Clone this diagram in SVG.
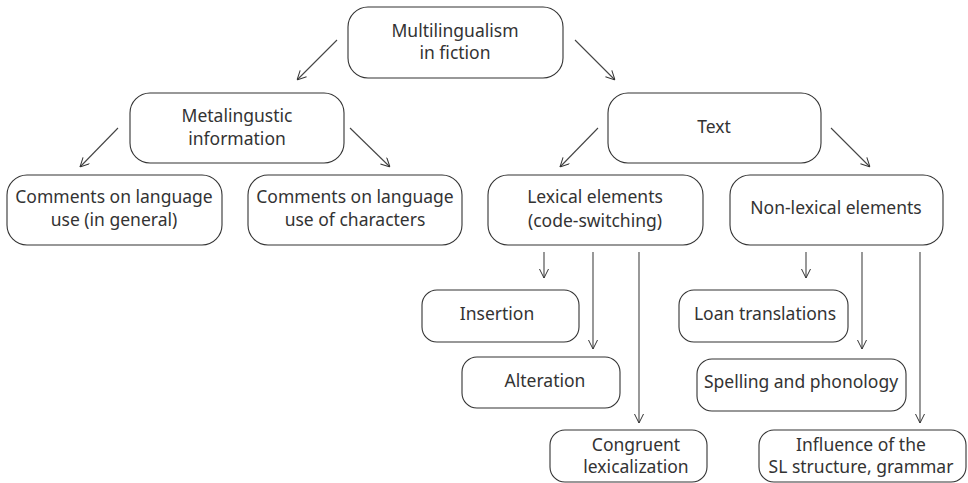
<svg xmlns="http://www.w3.org/2000/svg" width="968" height="483" viewBox="0 0 968 483">
<defs>
<marker id="ah" viewBox="0 0 10 10" refX="10" refY="5" markerWidth="10" markerHeight="10" markerUnits="userSpaceOnUse" orient="auto">
<path d="M1,0.5 L10,5 L1,9.5" fill="none" stroke="#333" stroke-width="1"/>
</marker>
<style>
.box{fill:#fff;stroke:#333;stroke-width:1.1}
.t{font-family:"Noto Sans","Open Sans",sans-serif;font-size:17.5px;fill:#333;text-anchor:middle}
.c{fill:none;stroke:#444;stroke-width:1.1;marker-end:url(#ah)}
</style>
</defs>
<rect width="968" height="483" fill="#fff"/>
<g id="connectors">
<line class="c" x1="337" y1="40" x2="297" y2="80"/>
<line class="c" x1="575" y1="40" x2="615" y2="80"/>
<line class="c" x1="118" y1="128" x2="80" y2="167"/>
<line class="c" x1="350" y1="128" x2="390" y2="167"/>
<line class="c" x1="598" y1="128" x2="560" y2="167"/>
<line class="c" x1="831" y1="128" x2="870" y2="167"/>
<line class="c" x1="544" y1="252" x2="544" y2="278"/>
<line class="c" x1="593" y1="252" x2="593" y2="349"/>
<line class="c" x1="639" y1="252" x2="639" y2="423"/>
<line class="c" x1="806" y1="252" x2="806" y2="278"/>
<line class="c" x1="862" y1="252" x2="862" y2="349"/>
<line class="c" x1="920" y1="252" x2="920" y2="423"/>
</g>
<g id="multilingualism">
<rect class="box" x="348" y="7" width="215" height="71" rx="20"/>
<text class="t" x="455" y="37">Multilingualism</text>
<text class="t" x="455" y="59">in fiction</text>
</g>
<g id="metalinguistic">
<rect class="box" x="130" y="93" width="214" height="70" rx="20"/>
<text class="t" x="237" y="122">Metalingustic</text>
<text class="t" x="237" y="145">information</text>
</g>
<g id="text">
<rect class="box" x="608" y="93" width="213" height="70" rx="20"/>
<text class="t" x="714" y="133">Text</text>
</g>
<g id="comments-general">
<rect class="box" x="7" y="175" width="215" height="70" rx="20"/>
<text class="t" x="114" y="203">Comments on language</text>
<text class="t" x="114" y="226">use (in general)</text>
</g>
<g id="comments-characters">
<rect class="box" x="248" y="175" width="214" height="70" rx="20"/>
<text class="t" x="355" y="203">Comments on language</text>
<text class="t" x="355" y="226">use of characters</text>
</g>
<g id="lexical">
<rect class="box" x="488" y="175" width="215" height="70" rx="20"/>
<text class="t" x="595" y="203">Lexical elements</text>
<text class="t" x="595" y="227">(code-switching)</text>
</g>
<g id="nonlexical">
<rect class="box" x="730" y="175" width="213" height="70" rx="20"/>
<text class="t" x="836" y="214">Non-lexical elements</text>
</g>
<g id="insertion">
<rect class="box" x="422" y="290" width="157" height="52" rx="15"/>
<text class="t" x="497" y="320">Insertion</text>
</g>
<g id="alteration">
<rect class="box" x="462" y="357" width="158" height="51" rx="15"/>
<text class="t" x="545" y="387">Alteration</text>
</g>
<g id="congruent">
<rect class="box" x="550" y="430" width="157" height="52" rx="15"/>
<text class="t" x="636" y="451">Congruent</text>
<text class="t" x="636" y="473">lexicalization</text>
</g>
<g id="loan">
<rect class="box" x="679" y="290" width="169" height="52" rx="15"/>
<text class="t" x="765" y="320">Loan translations</text>
</g>
<g id="spelling">
<rect class="box" x="697" y="359" width="209" height="52" rx="15"/>
<text class="t" x="801" y="388">Spelling and phonology</text>
</g>
<g id="influence">
<rect class="box" x="759" y="430" width="207" height="52" rx="15"/>
<text class="t" x="861" y="451">Influence of the</text>
<text class="t" x="861" y="473">SL structure, grammar</text>
</g>
</svg>
